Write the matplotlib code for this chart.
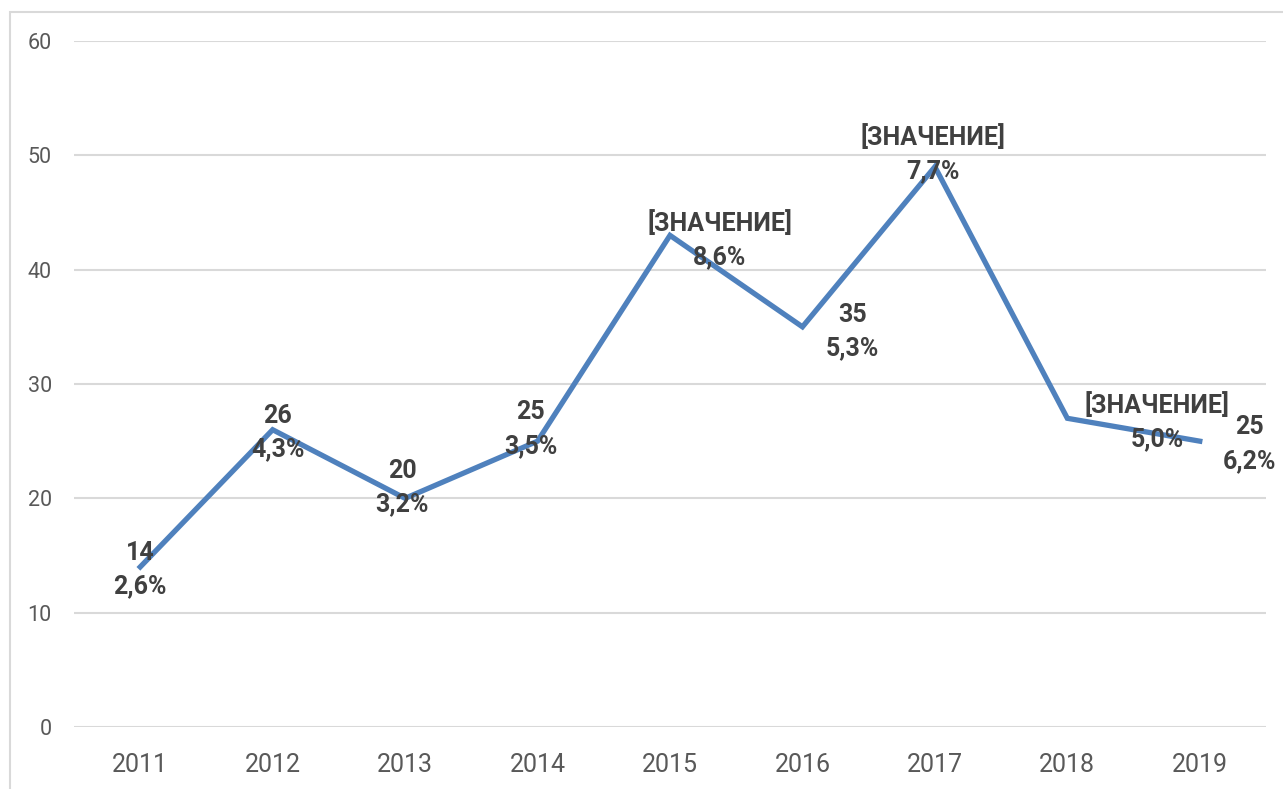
import matplotlib.pyplot as plt
from matplotlib.patches import Rectangle

years = ["2011", "2012", "2013", "2014", "2015", "2016", "2017", "2018", "2019"]
values = [14, 26, 20, 25, 43, 35, 49, 27, 25]
shares = ["2,6%", "4,3%", "3,2%", "3,5%", "8,6%", "5,3%", "7,7%", "5,0%", "6,2%"]
# some labels show the Excel placeholder instead of the number
top_text = ["14", "26", "20", "25", "[ЗНАЧЕНИЕ]", "35", "[ЗНАЧЕНИЕ]", "[ЗНАЧЕНИЕ]", "25"]

# label offsets in pixels (manual placement like in the original)
offsets = [(0, -3), (5, -3), (-3, 11), (-7, 12), (50, -4), (50, -5), (-2, 13), (90, -3), (50, -3)]

plt.rcParams['font.family'] = ['Roboto', 'DejaVu Sans']

fig = plt.figure(figsize=(12.83, 7.89), dpi=100)
ax = fig.add_axes([74 / 1283, 1 - 727 / 789, (1266 - 74) / 1283, (727 - 41) / 789])

# chart border
fig.patches.append(Rectangle((10 / 1283, -0.05), 1.1, 1 - 12 / 789 + 0.05,
                             transform=fig.transFigure, fill=False,
                             edgecolor="#d9d9d9", lw=1.5))

x = list(range(len(years)))
ax.plot(x, values, color="#4f81bd", lw=3.8, solid_joinstyle="miter", zorder=3)

for i in x:
    ax.annotate(top_text[i] + "\n" + shares[i], (i, values[i]),
                xytext=offsets[i], textcoords="offset pixels",
                ha="center", va="center", multialignment="center",
                fontsize=18, fontweight="bold", color="#404040",
                linespacing=1.5, zorder=4)

ax.set_xlim(-0.5, len(years) - 0.5)
ax.set_ylim(0, 60)
ax.set_yticks(range(0, 61, 10))
ax.set_xticks(x)
ax.set_xticklabels(years)
ax.grid(axis="y", color="#d9d9d9", lw=1.5)
ax.set_axisbelow(True)
for s in ax.spines.values():
    s.set_visible(False)
ax.tick_params(axis="both", length=0, colors="#595959")
ax.tick_params(axis="x", labelsize=18, pad=19)
ax.tick_params(axis="y", labelsize=15.5, pad=16)

fig.savefig("out.png", dpi=100)
